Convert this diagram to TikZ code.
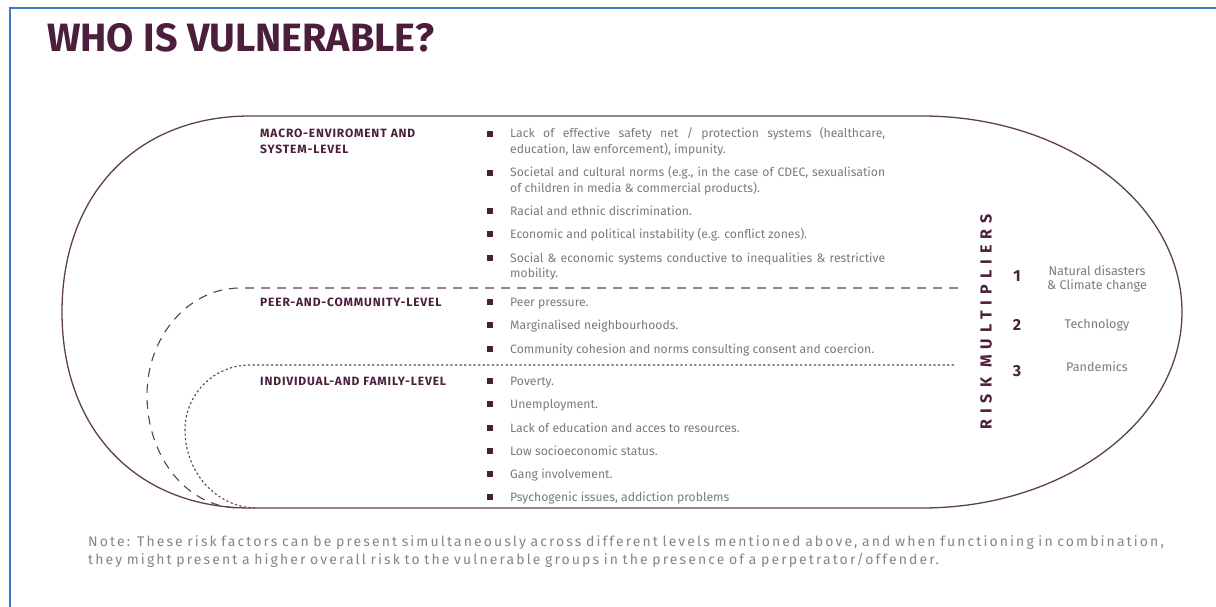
\documentclass[tikz,border=0pt]{standalone}
\usepackage{fontspec}
\setmainfont{Fira Sans}
\newfontfamily\notefont[LetterSpace=15, WordSpace=2.3]{Fira Sans}
\newfontfamily\multfont[LetterSpace=38]{Fira Sans}
\newfontfamily\levelfont[LetterSpace=7]{Fira Sans}
\usetikzlibrary{positioning, calc}
\definecolor{plum}{HTML}{4B1F3C}
\definecolor{rim}{HTML}{5E3E55}
\definecolor{itemgray}{HTML}{7A7A7A}
\definecolor{notegray}{HTML}{858585}
\definecolor{frameblue}{HTML}{3B78C2}

\begin{document}
\begin{tikzpicture}[x=1pt, y=-1pt,
    level/.style={anchor=base west, inner sep=0pt, text width=215pt, align=left, text=plum,
      font=\fontsize{12}{16}\selectfont\levelfont\bfseries},
    item/.style={anchor=base west, inner sep=0pt, text width=375pt, align=justify,
      text=itemgray, font=\fontsize{12.2}{15.5}\selectfont},
    bullet/.style={fill=plum, minimum size=5.5pt, inner sep=0pt},
    factor/.style={inner sep=0pt, align=center, text=itemgray,
      font=\fontsize{12.6}{14}\selectfont},
    num/.style={inner sep=0pt, text=plum, font=\fontsize{16}{16}\selectfont\bfseries}]
  \useasboundingbox (0,0) rectangle (1216,607);
  \draw[frameblue, line width=2pt] (10,607) -- (10,8) -- (1216,8);

  \node[anchor=base west, inner sep=0pt, text=plum, font=\fontsize{39.5}{44}\selectfont\bfseries]
    (title) at (47,52) {WHO IS VULNERABLE?};

  \draw[rim, line width=1.3pt] (250,116) -- (922,116)
    .. controls (1066,116) and (1182,204) .. (1182,312)
    .. controls (1182,420) and (1066,508) .. (922,508) -- (250,508)
    .. controls (137,508) and (62,430) .. (62,312)
    .. controls (62,194) and (137,116) .. cycle;
  \draw[rim, line width=1.1pt, dash pattern=on 9pt off 7pt] (958,288) -- (240,288)
    .. controls (189,288) and (147,336) .. (147,395)
    .. controls (147,457) and (187,508) .. (240,508);
  \draw[rim, line width=1.1pt, dash pattern=on 2.2pt off 2.4pt] (954,365) -- (250,365)
    .. controls (214,365) and (185,394) .. (185,430)
    .. controls (185,473) and (217,508) .. (257,508);

  \node[level] (macro) at (260,138) {MACRO-ENVIROMENT AND\\SYSTEM-LEVEL};
  \node[level] (peer) at (260,306) {PEER-AND-COMMUNITY-LEVEL};
  \node[level] (indiv) at (260,385) {INDIVIDUAL-AND FAMILY-LEVEL};

  \foreach \y [count=\k] in {134,173,211,234,258,302,325,349,381,404,428,451,474,497}
    \node[bullet] (b\k) at (490,\y) {};

  \node[item] (m1) at (510,138) {Lack of effective safety net / protection systems (healthcare,\linebreak education, law enforcement), impunity.};
  \node[item] (m2) at (510,177) {Societal and cultural norms (e.g., in the case of CDEC, sexualisation\linebreak of children in media \& commercial products).};
  \node[item] (m3) at (510,215) {Racial and ethnic discrimination.};
  \node[item] (m4) at (510,238) {Economic and political instability (e.g. conflict zones).};
  \node[item] (m5) at (510,262) {Social \& economic systems conductive to inequalities \& restrictive\linebreak mobility.};

  \node[item] (p1) at (510,306) {Peer pressure.};
  \node[item] (p2) at (510,329) {Marginalised neighbourhoods.};
  \node[item] (p3) at (510,353) {Community cohesion and norms consulting consent and coercion.};

  \node[item] (i1) at (510,385) {Poverty.};
  \node[item] (i2) at (510,408) {Unemployment.};
  \node[item] (i3) at (510,432) {Lack of education and acces to resources.};
  \node[item] (i4) at (510,455) {Low socioeconomic status.};
  \node[item] (i5) at (510,478) {Gang involvement.};
  \node[item] (i6) at (510,501) {Psychogenic issues, addiction problems};

  \node[rotate=90, inner sep=0pt, text=plum, font=\fontsize{16}{16}\selectfont\multfont\bfseries]
    (mult) at (986,322) {RISK MULTIPLIERS};

  \node[num] (n1) at (1017,276) {1};
  \node[num] (n2) at (1017,325) {2};
  \node[num] (n3) at (1017,371) {3};
  \node[factor] (r1) at (1097,279) {Natural disasters\\\& Climate change};
  \node[factor] (r2) at (1097,325) {Technology};
  \node[factor] (r3) at (1097,367) {Pandemics};

  \node[anchor=base west, inner sep=0pt, text width=1120pt, align=left, text=notegray,
    font=\fontsize{14}{18}\selectfont\notefont] (note) at (88,546)
    {Note: These risk factors can be present simultaneously across different levels mentioned above, and when functioning in combination,\\they might present a higher overall risk to the vulnerable groups in the presence of a perpetrator/offender.};
\end{tikzpicture}
\end{document}
